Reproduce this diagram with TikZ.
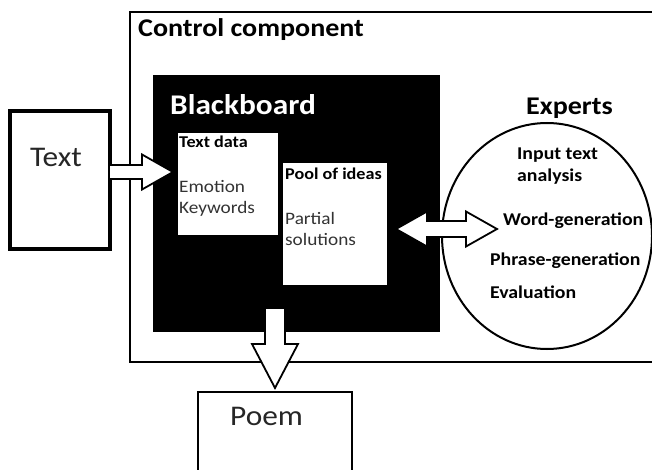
\documentclass[tikz,border=0pt]{standalone}
\usepackage{fontspec}
\setmainfont{Carlito}[FakeStretch=1.1]
\usetikzlibrary{shapes.geometric,calc}

\tikzset{
    blockarrow/.style={draw, fill=white, line width=1.8pt, line join=miter},
    big/.style={font=\fontsize{28.5}{28.5}\selectfont, text=black!85},
    head/.style={font=\bfseries\fontsize{25.5}{25.5}\selectfont},
    small/.style={font=\bfseries\fontsize{16.5}{16.5}\selectfont},
    plain/.style={font=\fontsize{17.5}{20.5}\selectfont, text=black!80, align=left},
    expert/.style={font=\bfseries\fontsize{18}{22}\selectfont, align=left}
}

\begin{document}
\begin{tikzpicture}[x=1pt, y=-1pt]
        \clip (0,0) rectangle (652,470);
        \begin{scope}[every node/.style={rectangle, inner sep=0, outer sep=0}]
            \node[draw, line width=2.5pt, minimum width=525, minimum height=350] (Control) at (392.5,187) {};
            \node[fill=black, minimum width=287, minimum height=257] (Board) at (296.5,203.5) {};
            \node[fill=white, minimum width=100, minimum height=102] (TextData) at (228,184) {};
            \node[fill=white, minimum width=104, minimum height=122] (Pool) at (335,224) {};
            \node[draw, line width=3.5pt, minimum width=100, minimum height=138] (Text) at (60,180) {};
            \node[draw, line width=2pt, minimum width=154, minimum height=84] (Poem) at (275,434) {};
            \node[ellipse, draw, line width=2pt, minimum width=210, minimum height=226] (Experts) at (547,236) {};
        \end{scope}
        \begin{scope}[every node/.style={anchor=base west, inner sep=0}]
            \node[head] (ControlLabel) at (138,37) {Control component};
            \node[font=\bfseries\fontsize{28.5}{28.5}\selectfont, text=white] (BoardLabel) at (170,115) {Blackboard};
            \node[small] (TextDataLabel) at (179,148) {Text data};
            \node[plain] (TextDataItems) at (179,213) {Emotion\\Keywords};
            \node[small] (PoolLabel) at (285,180) {Pool of ideas};
            \node[plain] (PoolItems) at (285,245) {Partial\\solutions};
            \node[big] (TextLabel) at (30,167) {Text};
            \node[big] (PoemLabel) at (230,425) {Poem};
            \node[head] (ExpertsLabel) at (526,115) {Experts};
            \node[expert] (Analysis) at (517,182) {Input text\\analysis};
            \node[expert] (WordGen) at (503,225) {Word-generation};
            \node[expert] (PhraseGen) at (490,265) {Phrase-generation};
            \node[expert] (Evaluation) at (490,298) {Evaluation};
        \end{scope}
        % input arrow
        \coordinate (InTip) at ($(TextData.west)+(-5,-12)$);
        \coordinate (InTail) at (Text.east |- InTip);
        \draw[blockarrow] ($(InTail)+(0,-7)$) -- ($(InTip)+(-31,-7)$) -- ($(InTip)+(-31,-17.5)$) -- (InTip)
            -- ($(InTip)+(-31,17.5)$) -- ($(InTip)+(-31,7)$) -- ($(InTail)+(0,7)$);
        % pool <-> experts
        \coordinate (PoolTip) at ($(Pool.east)+(9,5)$);
        \coordinate (ExpTip) at ($(Experts.west)+(55,-7)$);
        \draw[blockarrow] (PoolTip) -- ($(PoolTip)+(31,-17.5)$) -- ($(PoolTip)+(31,-8)$) -- ($(ExpTip)+(-31,-8)$)
            -- ($(ExpTip)+(-31,-17.5)$) -- (ExpTip) -- ($(ExpTip)+(-31,17.5)$) -- ($(ExpTip)+(-31,8)$)
            -- ($(PoolTip)+(31,8)$) -- ($(PoolTip)+(31,17.5)$) -- cycle;
        % output arrow
        \coordinate (OutTip) at ($(Poem.north)+(0,-4)$);
        \coordinate (OutTail) at ($(OutTip |- Board.south)+(0,-23)$);
        \draw[blockarrow] ($(OutTail)+(-10,0)$) -- ($(OutTip)+(-10,-44)$) -- ($(OutTip)+(-23,-44)$) -- (OutTip)
            -- ($(OutTip)+(23,-44)$) -- ($(OutTip)+(10,-44)$) -- ($(OutTail)+(10,0)$);
\end{tikzpicture}
\end{document}
